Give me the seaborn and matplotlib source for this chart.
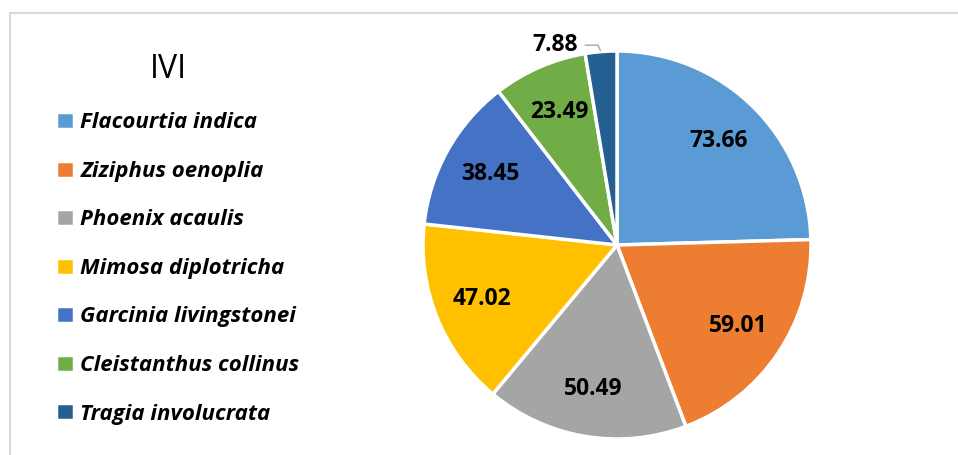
import numpy as np
import matplotlib
matplotlib.use("Agg")
import matplotlib.pyplot as plt
from matplotlib.patches import Rectangle
import seaborn as sns

species = ["Flacourtia indica", "Ziziphus oenoplia", "Phoenix acaulis",
           "Mimosa diplotricha", "Garcinia livingstonei",
           "Cleistanthus collinus", "Tragia involucrata"]
ivi = [73.66, 59.01, 50.49, 47.02, 38.45, 23.49, 7.88]
colors = ["#5B9BD5", "#ED7D31", "#A5A5A5", "#FFC000", "#4472C4", "#70AD47", "#255E91"]

sns.set_theme(style="white")
plt.rcParams["font.family"] = ["Open Sans", "DejaVu Sans"]
plt.rcParams["text.color"] = "black"

fig = plt.figure(figsize=(9.58, 4.55), dpi=100)
W, H = 958, 455
cx, cy, r = 617, 245, 194
ax = fig.add_axes([(cx - r) / W, (H - cy - r) / H, 2 * r / W, 2 * r / H])

wedges, _ = ax.pie(ivi, colors=sns.color_palette(colors), startangle=90, counterclock=False,
                   wedgeprops=dict(edgecolor="white", linewidth=2.5))
ax.set_xlim(-1, 1)
ax.set_ylim(-1, 1)
ax.set_aspect("equal")
ax.axis("off")

# data labels
for w, v in zip(wedges, ivi):
    ang = np.deg2rad((w.theta1 + w.theta2) / 2)
    if v < 10:
        x0, y0 = np.cos(ang), np.sin(ang)
        ax.annotate(f"{v:.2f}", xy=(x0, y0), xytext=(-0.32, 1.03),
                    ha="center", va="center", fontsize=16.5, fontweight="bold",
                    arrowprops=dict(arrowstyle="-", color="#A6A6A6", lw=1,
                                    shrinkA=3, shrinkB=1,
                                    connectionstyle="angle,angleA=0,angleB=115,rad=0"))
    else:
        d = 0.75
        ax.text(d * np.cos(ang), d * np.sin(ang), f"{v:.2f}", ha="center", va="center",
                fontsize=16.5, fontweight="bold", color="black")

fig.text(168 / W, 1 - 69 / H, "IVI", ha="center", va="center", fontsize=23)

fig.legend(wedges, species, loc="upper left", bbox_to_anchor=(36 / W, 1 - 92 / H),
           frameon=False, prop=dict(size=16, weight="bold", style="italic"),
           handlelength=0.8, handleheight=0.8, handletextpad=0.3, labelspacing=1.23)

fig.add_artist(Rectangle((9.5 / W, -0.1), 1.2, 1.1 - 13.5 / H, transform=fig.transFigure,
                         fill=False, edgecolor="#D9D9D9", lw=1.5))

fig.savefig("out.png", dpi=100)
